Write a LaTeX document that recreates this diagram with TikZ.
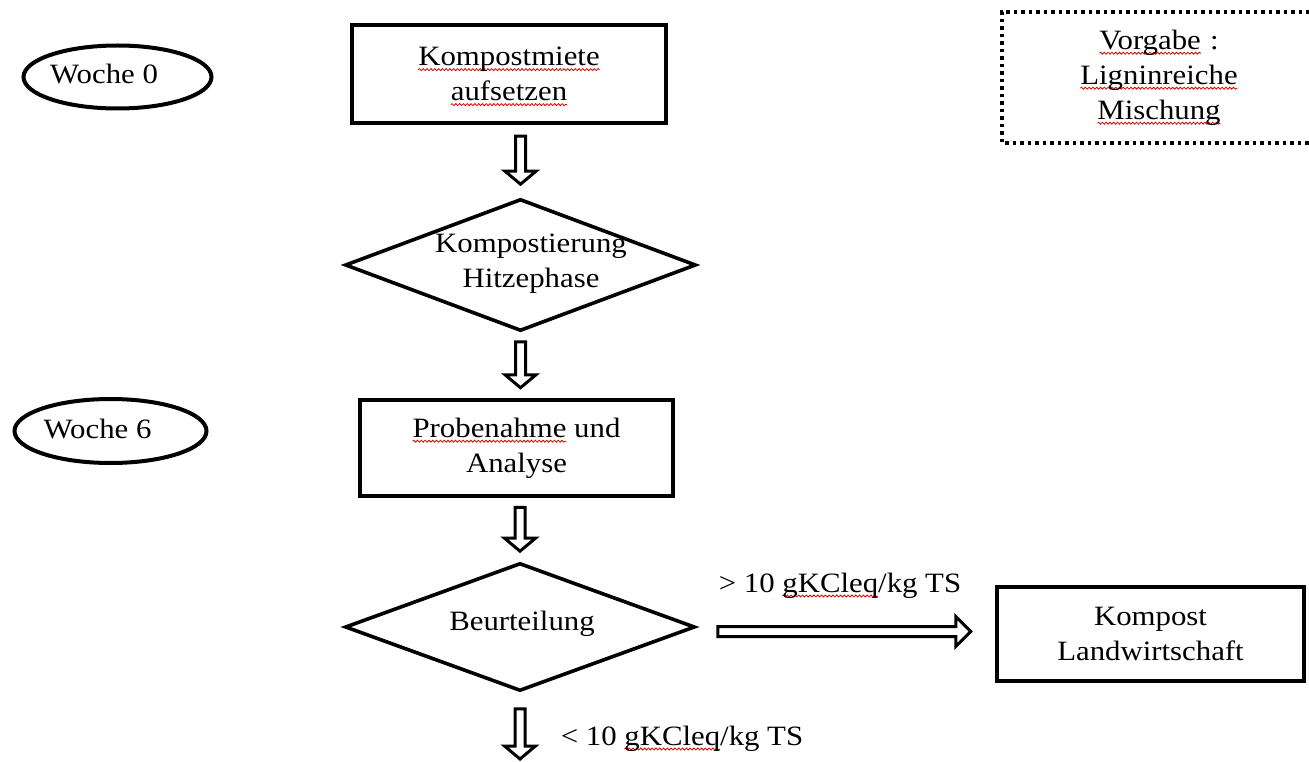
\documentclass[tikz,border=0pt]{standalone}
\usepackage{fontspec}
\setmainfont{Liberation Serif}[FakeStretch=1.1]
\usetikzlibrary{shapes.geometric,calc,decorations.pathmorphing}
% red wavy spell-check underline under a word
\newsavebox\sqbox
\newcommand\sq[1]{\sbox\sqbox{#1}\makebox[0pt][l]{\tikz[overlay, baseline=0pt, x=1pt, y=1pt]
  \draw[red!90!black, line width=0.8pt, decorate, decoration={snake, amplitude=1pt, segment length=3.8pt}]
  (0,-4) -- (\the\wd\sqbox,-4);}\usebox\sqbox}
% hollow block arrow pointing down: #1 upper anchor, #2 lower anchor, #3 x reference, #4 top gap, #5 bottom gap
\newcommand\downblock[5]{%
  \draw[blk] let \p1=(#1), \p2=(#2), \p3=(#3) in
   (\x3-5pt,\y1-#4pt) -- (\x3+5pt,\y1-#4pt) -- (\x3+5pt,\y2+#5pt+13pt)
   -- (\x3+15.5pt,\y2+#5pt+13pt) -- (\x3,\y2+#5pt) -- (\x3-15.5pt,\y2+#5pt+13pt)
   -- (\x3-5pt,\y2+#5pt+13pt) -- cycle;}
% hollow block arrow pointing right: #1 left anchor, #2 right anchor, #3 y reference, #4 left gap, #5 right gap
\newcommand\rightblock[5]{%
  \draw[blk] let \p1=(#1), \p2=(#2), \p3=(#3) in
   (\x1+#4pt,\y3+5pt) -- (\x2-#5pt-15pt,\y3+5pt) -- (\x2-#5pt-15pt,\y3+15pt)
   -- (\x2-#5pt,\y3) -- (\x2-#5pt-15pt,\y3-15pt) -- (\x2-#5pt-15pt,\y3-5pt)
   -- (\x1+#4pt,\y3-5pt) -- cycle;}
\tikzset{
  box/.style={draw, line width=4.5pt, inner sep=0, align=center},
  dotline/.style={line width=4pt, dash pattern=on 3.5pt off 4pt},
  ell/.style={draw, ellipse, line width=4pt, inner sep=0},
  diam/.style={draw, diamond, line width=3.6pt, inner sep=0},
  txt/.style={inner sep=0, align=center},
  blk/.style={draw, fill=white, line width=3pt, line join=miter},
}
\begin{document}
\begin{tikzpicture}[x=1pt, y=-1pt, font=\fontsize{28}{35}\selectfont]
\useasboundingbox (0,0) rectangle (1309,762);

% left week markers
\node[ell, minimum width=188, minimum height=63] (w0) at (117.5,77) {};
\node[txt, anchor=base] (t0) at (104,84) {Woche 0};
\node[ell, minimum width=192, minimum height=64] (w6) at (110.5,431) {};
\node[txt, anchor=base] (t6) at (97.5,438) {Woche 6};

% main flow
\node[box, minimum width=314, minimum height=98] (b1) at (509,74)
  {\sq{Kompostmiete}\\\sq{aufsetzen}};
\node[diam, minimum width=351, minimum height=132] (d1) at (520.5,265) {};
\node[txt] (t1) at (531,264) {Kompostierung\\Hitzephase};
\node[box, minimum width=313, minimum height=96] (b2) at (516.5,448)
  {\sq{Probenahme} und\\Analyse};
\node[diam, minimum width=350, minimum height=128] (d2) at (520,627) {};
\node[txt, anchor=base] (t2) at (522,630) {Beurteilung};
\node[box, minimum width=307, minimum height=94] (b3) at (1150.5,634)
  {Kompost\\Landwirtschaft};

% specification box (its right side runs past the page edge)
\node[txt, minimum width=330, minimum height=131, text width=314] (vg) at (1167,77.5)
  {\centering\hspace*{-16pt}\sq{Vorgabe} :\\\hspace*{-16pt}\sq{Ligninreiche}\\\hspace*{-16pt}\sq{Mischung}\par};
\draw[dotline] (vg.north east) -- (vg.north west) -- (vg.south west) -- (vg.south east);

% connectors
\coordinate (hy) at (0,631.5);
\coordinate (bottom) at (520,759);
\downblock{b1.south}{d1.north}{d1.north}{11}{13}
\downblock{d1.south}{b2.north}{d1.south}{9}{10}
\downblock{b2.south}{d2.north}{d2.north}{9}{10}
\downblock{d2.south}{bottom}{bottom}{16}{0}
\rightblock{d2.east}{b3.west}{hy}{21}{24}

% branch labels
\node[txt, anchor=base] (l1) at (840,592) {> 10 \sq{gKCleq}/kg TS};
\node[txt, anchor=base] (l2) at (682,745) {< 10 \sq{gKCleq}/kg TS};
\end{tikzpicture}
\end{document}
